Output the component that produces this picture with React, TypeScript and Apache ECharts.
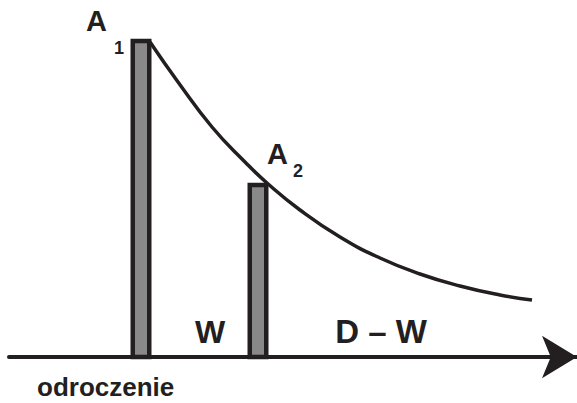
import React, { useEffect, useRef } from "react";
import * as echarts from "echarts";

// Positions along the time axis (schematic units) and heights of the two doses
const barX = [141, 258];
const barHeights = [316, 172];
const barNames = ["A1", "A2"];

// Decay curve
const curveX = [150, 178, 212, 245, 267, 300, 340, 380, 420, 460, 500, 532];
const curveY = [315, 275, 230, 195, 174, 147, 120, 99, 83, 71, 62, 57];

const intervalLabels = ["W", "D – W"];
const axisTitle = "odroczenie";

const INK = "#231f20";
const FONT = "'Liberation Sans', Arial, sans-serif";

export default function App() {
  const ref = useRef<HTMLDivElement>(null);
  useEffect(() => {
    if (!ref.current) return;
    const chart = echarts.init(ref.current, undefined, { renderer: "svg" });
    const txt = (text: string, x: number, y: number, size: number, align = "left") => ({
      type: "text",
      x,
      y,
      style: {
        text,
        fill: INK,
        font: `bold ${size}px ${FONT}`,
        textAlign: align,
        textVerticalAlign: "bottom",
      },
    });
    chart.setOption({
      animation: false,
      backgroundColor: "#ffffff",
      grid: { left: 9, right: 0, top: 21, bottom: 46 },
      xAxis: {
        type: "value",
        min: 9,
        max: 577,
        axisLine: {
          show: true,
          onZero: false,
          symbol: ["none", "arrow"],
          symbolSize: [32, 35],
          lineStyle: { color: INK, width: 4 },
        },
        axisTick: { show: false },
        axisLabel: { show: false },
        splitLine: { show: false },
      },
      yAxis: {
        type: "value",
        min: 0,
        max: 336,
        show: false,
        splitLine: { show: false },
      },
      series: [
        {
          type: "custom",
          name: "dawki",
          data: barX.map((x, i) => ({ name: barNames[i], value: [x, barHeights[i]] })),
          renderItem: (params: any, api: any) => {
            const base = api.coord([api.value(0), 0]);
            const top = api.coord([api.value(0), api.value(1)]);
            const w = 16.5;
            return {
              type: "rect",
              shape: { x: base[0] - w / 2, y: top[1], width: w, height: base[1] - top[1] },
              style: { fill: "#898989", stroke: INK, lineWidth: 4.5 },
            };
          },
          z: 2,
        },
        {
          type: "line",
          smooth: 0.5,
          symbol: "none",
          data: curveX.map((x, i) => [x, curveY[i]]),
          lineStyle: { color: INK, width: 3.5 },
          z: 3,
        },
      ],
      graphic: [
        txt("A", 86, 35, 29),
        txt("1", 114, 57, 18),
        txt("A", 267, 168, 29),
        txt("2", 293, 180, 18),
        txt(intervalLabels[0], 210, 348, 32, "center"),
        txt(intervalLabels[1], 381, 348, 33, "center"),
        txt(axisTitle, 37, 400, 26),
      ],
    });
    return () => chart.dispose();
  }, []);
  return <div ref={ref} style={{ width: 577, height: 403, position: "absolute", left: 0, top: 0 }} />;
}
